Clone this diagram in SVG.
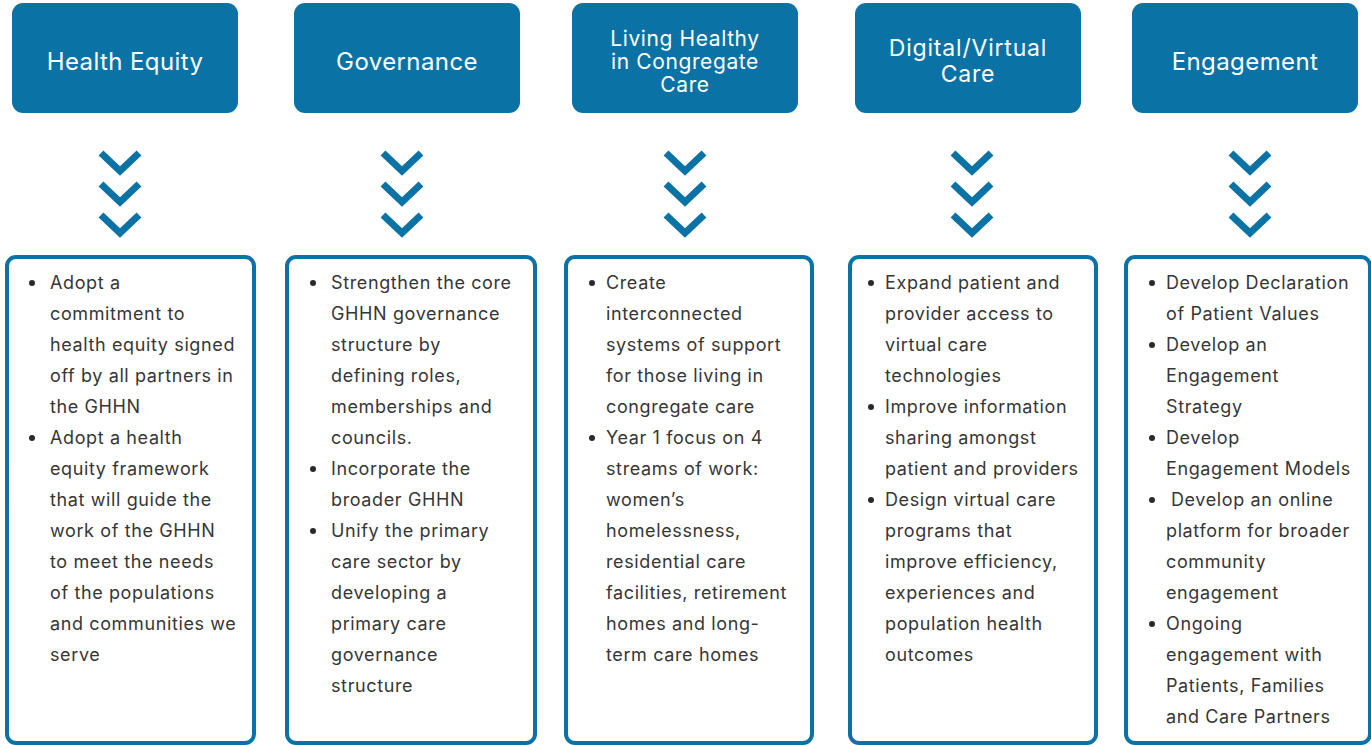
<svg xmlns="http://www.w3.org/2000/svg" width="1371" height="745" viewBox="0 0 1371 745">
<style>
.hdr{fill:#0b72a6}
.ht{font-family:Inter,"Liberation Sans",sans-serif;fill:#fff;text-anchor:middle}
.box{fill:#fff;stroke:#0b72a6;stroke-width:4}
.bt{font-family:Inter,"Liberation Sans",sans-serif;font-size:18px;letter-spacing:0.62px;fill:#363636}
.bul{fill:#2a2a2a}
.chev{fill:none;stroke:#0b72a6;stroke-width:7;stroke-linecap:butt;stroke-linejoin:miter}
</style>
<defs>
<g id="chv">
<polyline class="chev" points="-19,-10 0,8 19,-10"/>
<polyline class="chev" points="-19,21 0,39 19,21"/>
<polyline class="chev" points="-19,52 0,70 19,52"/>
</g>
</defs>
<rect width="1371" height="745" fill="#fff"/>

<g id="connectors">
<use href="#chv" x="120" y="163"/>
<use href="#chv" x="402" y="163"/>
<use href="#chv" x="685" y="163"/>
<use href="#chv" x="972" y="163"/>
<use href="#chv" x="1250" y="163"/>
</g>

<g id="h1"><rect class="hdr" x="12" y="3" width="226" height="110" rx="11"/><text class="ht" x="125" y="70" font-size="24" letter-spacing="0.4">Health Equity</text></g>
<g id="h2"><rect class="hdr" x="294" y="3" width="226" height="110" rx="11"/><text class="ht" x="407" y="70" font-size="24" letter-spacing="0.4">Governance</text></g>
<g id="h3"><rect class="hdr" x="572" y="3" width="226" height="110" rx="11"/><text class="ht" x="685" font-size="21" letter-spacing="0.6"><tspan x="685" y="46">Living Healthy</tspan><tspan x="685" y="69">in Congregate</tspan><tspan x="685" y="92">Care</tspan></text></g>
<g id="h4"><rect class="hdr" x="855" y="3" width="226" height="110" rx="11"/><text class="ht" x="968" font-size="23" letter-spacing="0.8"><tspan x="968" y="56">Digital/Virtual</tspan><tspan x="968" y="82">Care</tspan></text></g>
<g id="h5"><rect class="hdr" x="1132" y="3" width="226" height="110" rx="11"/><text class="ht" x="1245" y="70" font-size="24" letter-spacing="0.4">Engagement</text></g>

<g id="b1">
<rect class="box" x="7" y="257" width="247" height="486" rx="9"/>
<circle class="bul" cx="32" cy="283" r="3"/><circle class="bul" cx="32" cy="438" r="3"/>
<text class="bt"><tspan x="50" y="289">Adopt a</tspan><tspan x="50" y="320">commitment to</tspan><tspan x="50" y="351">health equity signed</tspan><tspan x="50" y="382">off by all partners in</tspan><tspan x="50" y="413">the GHHN</tspan><tspan x="50" y="444">Adopt a health</tspan><tspan x="50" y="475">equity framework</tspan><tspan x="50" y="506">that will guide the</tspan><tspan x="50" y="537">work of the GHHN</tspan><tspan x="50" y="568">to meet the needs</tspan><tspan x="50" y="599">of the populations</tspan><tspan x="50" y="630">and communities we</tspan><tspan x="50" y="661">serve</tspan></text>
</g>

<g id="b2">
<rect class="box" x="287" y="257" width="248" height="486" rx="9"/>
<circle class="bul" cx="313" cy="283" r="3"/><circle class="bul" cx="313" cy="469" r="3"/><circle class="bul" cx="313" cy="531" r="3"/>
<text class="bt"><tspan x="331" y="289">Strengthen the core</tspan><tspan x="331" y="320">GHHN governance</tspan><tspan x="331" y="351">structure by</tspan><tspan x="331" y="382">defining roles,</tspan><tspan x="331" y="413">memberships and</tspan><tspan x="331" y="444">councils.</tspan><tspan x="331" y="475">Incorporate the</tspan><tspan x="331" y="506">broader GHHN</tspan><tspan x="331" y="537">Unify the primary</tspan><tspan x="331" y="568">care sector by</tspan><tspan x="331" y="599">developing a</tspan><tspan x="331" y="630">primary care</tspan><tspan x="331" y="661">governance</tspan><tspan x="331" y="692">structure</tspan></text>
</g>

<g id="b3">
<rect class="box" x="566" y="257" width="246" height="486" rx="9"/>
<circle class="bul" cx="592" cy="283" r="3"/><circle class="bul" cx="592" cy="438" r="3"/>
<text class="bt"><tspan x="606" y="289">Create</tspan><tspan x="606" y="320">interconnected</tspan><tspan x="606" y="351">systems of support</tspan><tspan x="606" y="382">for those living in</tspan><tspan x="606" y="413">congregate care</tspan><tspan x="606" y="444">Year 1 focus on 4</tspan><tspan x="606" y="475">streams of work:</tspan><tspan x="606" y="506">women’s</tspan><tspan x="606" y="537">homelessness,</tspan><tspan x="606" y="568">residential care</tspan><tspan x="606" y="599">facilities, retirement</tspan><tspan x="606" y="630">homes and long-</tspan><tspan x="606" y="661">term care homes</tspan></text>
</g>

<g id="b4">
<rect class="box" x="850" y="257" width="246" height="486" rx="9"/>
<circle class="bul" cx="871" cy="283" r="3"/><circle class="bul" cx="871" cy="407" r="3"/><circle class="bul" cx="871" cy="500" r="3"/>
<text class="bt"><tspan x="885" y="289">Expand patient and</tspan><tspan x="885" y="320">provider access to</tspan><tspan x="885" y="351">virtual care</tspan><tspan x="885" y="382">technologies</tspan><tspan x="885" y="413">Improve information</tspan><tspan x="885" y="444">sharing amongst</tspan><tspan x="885" y="475">patient and providers</tspan><tspan x="885" y="506">Design virtual care</tspan><tspan x="885" y="537">programs that</tspan><tspan x="885" y="568">improve efficiency,</tspan><tspan x="885" y="599">experiences and</tspan><tspan x="885" y="630">population health</tspan><tspan x="885" y="661">outcomes</tspan></text>
</g>

<g id="b5">
<rect class="box" x="1126" y="257" width="244" height="486" rx="9"/>
<circle class="bul" cx="1152" cy="283" r="3"/><circle class="bul" cx="1152" cy="345" r="3"/><circle class="bul" cx="1152" cy="438" r="3"/><circle class="bul" cx="1152" cy="500" r="3"/><circle class="bul" cx="1152" cy="624" r="3"/>
<text class="bt"><tspan x="1166" y="289">Develop Declaration</tspan><tspan x="1166" y="320">of Patient Values</tspan><tspan x="1166" y="351">Develop an</tspan><tspan x="1166" y="382">Engagement</tspan><tspan x="1166" y="413">Strategy</tspan><tspan x="1166" y="444">Develop</tspan><tspan x="1166" y="475">Engagement Models</tspan><tspan x="1171" y="506">Develop an online</tspan><tspan x="1166" y="537">platform for broader</tspan><tspan x="1166" y="568">community</tspan><tspan x="1166" y="599">engagement</tspan><tspan x="1166" y="630">Ongoing</tspan><tspan x="1166" y="661">engagement with</tspan><tspan x="1166" y="692">Patients, Families</tspan><tspan x="1166" y="723">and Care Partners</tspan></text>
</g>
</svg>
